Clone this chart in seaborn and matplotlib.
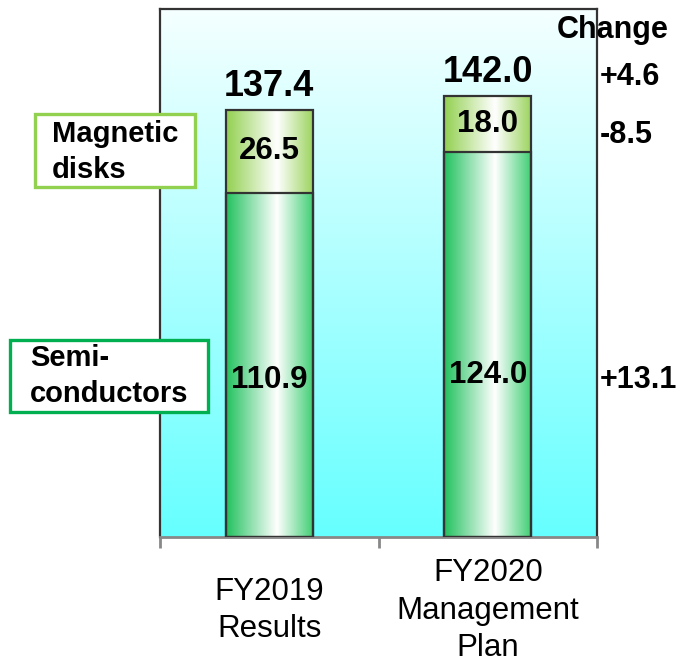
import matplotlib.pyplot as plt
import numpy as np
import pandas as pd
import seaborn as sns
from matplotlib.colors import LinearSegmentedColormap
from matplotlib.patches import Rectangle

# Data (billions of yen)
categories = ["FY2019\nResults", "FY2020\nManagement\nPlan"]
semiconductors = [110.9, 124.0]
magnetic_disks = [26.5, 18.0]
totals = [137.4, 142.0]
changes = ["+4.6", "-8.5", "+13.1"]

df = pd.DataFrame({"Category": categories, "Semiconductors": semiconductors,
                   "Magnetic disks": magnetic_disks, "Total": totals})

sns.set_style("white")
plt.rcParams["font.family"] = ["Liberation Sans", "DejaVu Sans"]
plt.rcParams["text.color"] = "black"
plt.rcParams["xtick.color"] = "black"

fig = plt.figure(figsize=(6.79, 6.62), dpi=100)
ax = fig.add_axes([160 / 679, 125 / 662, 437 / 679, 528 / 662])

# Total bars first, then semiconductor bars over them
sns.barplot(data=df, x="Category", y="Total", width=0.4, errorbar=None, ax=ax)
n_tot = len(ax.patches)
sns.barplot(data=df, x="Category", y="Semiconductors", width=0.4, errorbar=None, ax=ax)
tot_patches = ax.patches[:n_tot]
semi_patches = ax.patches[n_tot:]

green_cmap = LinearSegmentedColormap.from_list(
    "semi", [(0, "#22c15e"), (0.58, "#ffffff"), (1, "#3dce72")])
disk_cmap = LinearSegmentedColormap.from_list(
    "disk", [(0, "#92d050"), (0.58, "#ffffff"), (1, "#9ad35c")])
grad = np.linspace(0, 1, 256).reshape(1, -1)

for patches, cmap, z in [(tot_patches, disk_cmap, 1.5), (semi_patches, green_cmap, 1.6)]:
    for p in patches:
        x0, w, h = p.get_x(), p.get_width(), p.get_height()
        ax.imshow(grad, extent=(x0, x0 + w, 0, h), aspect="auto", cmap=cmap,
                  interpolation="bicubic", zorder=z)
        p.set_facecolor("none")
        p.set_edgecolor("#333333")
        p.set_linewidth(1.6)
        p.set_zorder(3)

# background gradient
bg = LinearSegmentedColormap.from_list("bg", ["#66ffff", "#f5ffff"])
ax.imshow(np.linspace(0, 1, 256).reshape(-1, 1), extent=(-0.5, 1.5, 0, 170),
          origin="lower", aspect="auto", cmap=bg, zorder=0)

ax.set_xlim(-0.5, 1.5)
ax.set_ylim(0, 170)
ax.set_xlabel("")
ax.set_ylabel("")
ax.set_yticks([])

# value labels
for i in range(len(categories)):
    ax.text(i, totals[i] + 4.5, f"{totals[i]:.1f}", ha="center", va="baseline",
            fontsize=26, fontweight="bold", zorder=5)
    ax.text(i, semiconductors[i] + magnetic_disks[i] / 2, f"{magnetic_disks[i]:.1f}",
            ha="center", va="center", fontsize=22.5, fontweight="bold", zorder=5)
    ax.text(i, [50.5, 52][i], f"{semiconductors[i]:.1f}", ha="center", va="center",
            fontsize=22.5, fontweight="bold", zorder=5)

# axes styling
for s in ["left", "right", "top"]:
    ax.spines[s].set_color("#333333")
    ax.spines[s].set_linewidth(1.6)
ax.spines["bottom"].set_color("#888888")
ax.spines["bottom"].set_linewidth(2)
ax.set_xticks([0, 1])
ax.set_xticklabels(categories, fontsize=22.5, linespacing=1.32)
ax.set_xticks([-0.5, 0.5, 1.5], minor=True)
ax.tick_params(axis="x", which="major", length=0, pad=53)
ax.tick_params(axis="x", which="minor", length=8, width=2, color="#888888", bottom=True)
for lbl in ax.get_xticklabels():
    lbl.set_va("center")

# change column
fig.text(613 / 679, 1 - 30 / 662, "Change", ha="center", va="center",
         fontsize=22, fontweight="bold")
for txt, ypx in zip(changes, [77, 135, 380]):
    fig.text(600 / 679, 1 - ypx / 662, txt, ha="left", va="center",
             fontsize=22, fontweight="bold")

# segment name boxes
fig.add_artist(Rectangle((35 / 679, 1 - 187 / 662), 160 / 679, 73 / 662,
                         transform=fig.transFigure, facecolor="white",
                         edgecolor="#92d050", linewidth=2.4, zorder=5))
fig.text(52 / 679, 1 - 152 / 662, "Magnetic\ndisks", ha="left", va="center",
         fontsize=21, fontweight="bold", linespacing=1.32, zorder=6)
fig.add_artist(Rectangle((10 / 679, 1 - 412 / 662), 198 / 679, 72 / 662,
                         transform=fig.transFigure, facecolor="white",
                         edgecolor="#00b050", linewidth=2.4, zorder=5))
fig.text(30 / 679, 1 - 376 / 662, "Semi-\nconductors", ha="left", va="center",
         fontsize=21, fontweight="bold", linespacing=1.32, zorder=6)

fig.savefig("out.png", dpi=100)
